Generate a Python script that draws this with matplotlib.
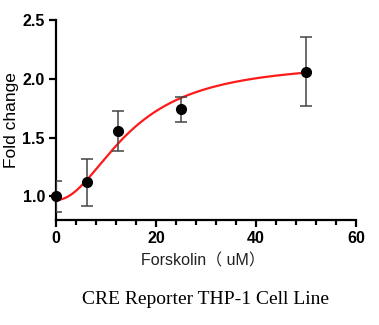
import numpy as np
import matplotlib
matplotlib.use("Agg")
import matplotlib.pyplot as plt
from matplotlib.ticker import MultipleLocator

# Data
conc = [0, 6.25, 12.5, 25, 50]
fold = [1.00, 1.12, 1.56, 1.74, 2.06]
err = [0.13, 0.20, 0.17, 0.105, 0.295]
# Hill fit parameters
fit_bottom, fit_top, fit_ec50, fit_hill = 0.97, 2.15, 15.0, 2.0

fig = plt.figure(figsize=(3.79, 3.25), dpi=100)
ax = fig.add_axes([56/379, 1-220/325, 300/379, 200/325])

xs = np.linspace(0, 50, 300)
ys = fit_bottom + (fit_top - fit_bottom) * xs**fit_hill / (fit_ec50**fit_hill + xs**fit_hill)
ax.plot(xs, ys, color="#ff1a1a", lw=1.6, zorder=2)

ax.errorbar(conc, fold, yerr=err, fmt="none", ecolor="#444444", elinewidth=1.1,
            capsize=4, capthick=1.1, zorder=3)
ax.plot(conc, fold, "o", color="black", ms=7, zorder=4, clip_on=False)

ax.set_xlim(0, 60)
ax.set_ylim(0.8, 2.5)
ax.xaxis.set_major_locator(MultipleLocator(20))
ax.xaxis.set_minor_locator(MultipleLocator(4))
ax.set_yticks([1.0, 1.5, 2.0, 2.5])
ax.yaxis.set_major_formatter(matplotlib.ticker.FormatStrFormatter("%.1f"))

for s in ["top", "right"]:
    ax.spines[s].set_visible(False)
for s in ["left", "bottom"]:
    ax.spines[s].set_linewidth(1.6)
ax.tick_params(which="major", direction="out", length=5, width=1.6, labelsize=11.5, pad=3)
ax.tick_params(axis="x", which="minor", direction="out", length=3.5, width=1.6)
for lab in ax.get_xticklabels() + ax.get_yticklabels():
    lab.set_fontfamily("Liberation Sans")
    lab.set_fontweight("bold")

ax.set_ylabel("Fold change", fontsize=12.5, family="Liberation Sans")
ax.yaxis.set_label_coords(-0.125, 0.5)
ax.set_xlabel("Forskolin（ uM）", fontsize=11.5, family=["Liberation Sans", "Noto Sans CJK SC"],
              color="#222222")
ax.xaxis.set_label_coords(0.49, -0.165)

fig.text(205/379, 1-299/325, "CRE Reporter THP-1 Cell Line", ha="center", va="center",
         fontsize=14, family="Liberation Serif")

fig.savefig("out.png", dpi=100)
